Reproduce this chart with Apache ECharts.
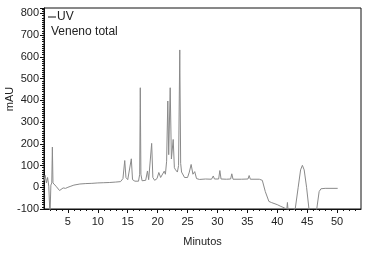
<!DOCTYPE html>
<html><head><meta charset="utf-8">
<script src="https://cdn.jsdelivr.net/npm/echarts@6/dist/echarts.min.js"></script>
<style>html,body{margin:0;padding:0;background:#fff}#c{width:371px;height:254px}</style>
</head><body><div id="c"></div>
<script>
// Retention time (min) and absorbance (mAU)
const times = [1.0,1.2,1.4,1.6,1.8,2.0,2.15,2.3,2.4,2.5,2.7,3.0,3.3,3.6,3.9,4.2,4.6,5.0,5.5,6.0,7.0,8.0,9.0,10.0,11.0,12.0,13.0,13.8,14.2,14.5,14.7,15.0,15.3,15.6,15.8,16.2,16.8,17.0,17.1,17.2,17.4,18.0,18.3,18.5,18.8,19.0,19.2,19.5,19.9,20.2,20.5,20.8,21.1,21.3,21.5,21.7,21.85,22.1,22.3,22.6,22.8,23.0,23.3,23.5,23.7,23.85,24.0,24.5,25.0,25.3,25.6,25.9,26.2,26.5,27.0,28.0,29.0,29.3,29.5,30.2,30.4,30.6,31.5,32.2,32.4,32.6,34.0,35.1,35.3,35.5,37.0,37.5,38.0,38.6,39.0,40.0,40.6,41.2,41.6,41.7,41.8,42.5,43.0,43.5,43.9,44.2,44.5,44.9,45.3,45.6,46.3,46.6,47.0,47.3,48.0,50.1];
const mAU   = [30,55,20,45,5,-130,10,20,185,20,25,5,0,-15,-12,-3,-5,0,5,10,15,17,18,20,21,22,24,26,40,123,45,35,40,131,35,28,28,60,458,60,30,32,75,35,40,202,45,32,40,68,45,50,74,60,120,397,150,458,130,220,90,80,70,100,632,110,70,45,45,70,105,60,72,40,36,38,37,52,38,38,77,38,37,38,62,37,37,38,54,37,37,32,-20,-65,-70,-80,-88,-95,-100,-70,-105,-110,-100,0,80,101,80,0,-100,-140,-140,-100,-20,-7,-5,-5];
const xMajorTicks = [5,10,15,20,25,30,35,40,45,50];
const xMinorTicks = [2,3,4,5,6,7,8,9,10,11,12,13,14,15,16,17,18,19,20,21,22,23,24,25,26,27,28,29,30,31,32,33,34,35,36,37,38,39,40,41,42,43,44,45,46,47,48,49,50,51,52,53];
const seriesName = 'UV';
const subtitle = 'Veneno total';
const xTitle = 'Minutos';
const yTitle = 'mAU';

const data = times.map((t, i) => [t, mAU[i]]);
const font = 'Liberation Sans, Arial, sans-serif';
const chart = echarts.init(document.getElementById('c'), null, {renderer: 'canvas'});
chart.setOption({
  animation: false,
  grid: {left: 44, right: 10, top: 8, bottom: 45, containLabel: false, outerBoundsMode: 'none',
    show: true, borderColor: '#111', borderWidth: 1, backgroundColor: 'transparent'},
  legend: {
    data: [{name: seriesName, icon: 'rect'}],
    left: 48, top: 11, itemWidth: 8, itemHeight: 1, itemGap: 0, padding: 0,
    itemStyle: {color: '#111'},
    textStyle: {fontFamily: font, fontSize: 12, color: '#222', padding: [0,0,0,-4]}
  },
  graphic: [
    {type: 'text', left: 51, top: 26, style: {text: subtitle, font: '12px ' + font, fill: '#222'}},
    {type: 'text', x: 10, y: 99, rotation: Math.PI / 2,
     style: {text: yTitle, font: '11px ' + font, fill: '#222', align: 'center', verticalAlign: 'middle'}}
  ],
  xAxis: [{
    type: 'value', min: 1, max: 54,
    name: xTitle, nameLocation: 'middle', nameGap: 27,
    nameTextStyle: {fontFamily: font, fontSize: 11, color: '#222'},
    axisLine: {show: true, onZero: false, lineStyle: {color: '#111'}},
    axisTick: {show: true, customValues: xMajorTicks, length: 4, lineStyle: {color: '#111'}},
    axisLabel: {customValues: xMajorTicks, fontFamily: font, fontSize: 11, color: '#222', margin: 7},
    splitLine: {show: false}
  }, {
    type: 'value', min: 1, max: 54, position: 'bottom',
    axisLine: {show: false, onZero: false},
    axisTick: {show: true, customValues: xMinorTicks, length: 2, lineStyle: {color: '#111'}},
    axisLabel: {show: false},
    splitLine: {show: false}
  }],
  yAxis: {
    type: 'value', min: -100, max: 825, interval: 100,
    axisLine: {show: true, onZero: false, lineStyle: {color: '#111'}},
    axisTick: {show: true, length: 4, lineStyle: {color: '#111'}},
    minorTick: {show: true, splitNumber: 10, length: 2, lineStyle: {color: '#111'}},
    axisLabel: {fontFamily: font, fontSize: 11, color: '#222', margin: 5,
      formatter: v => (v % 100 === 0 ? String(v) : '')},
    splitLine: {show: false}, minorSplitLine: {show: false}
  },
  series: [{
    name: seriesName, type: 'line', data: data, xAxisIndex: 0,
    showSymbol: false, symbol: 'none', clip: true,
    lineStyle: {color: '#8a8a8a', width: 1},
    itemStyle: {color: '#8a8a8a'}
  }]
});
</script></body></html>
